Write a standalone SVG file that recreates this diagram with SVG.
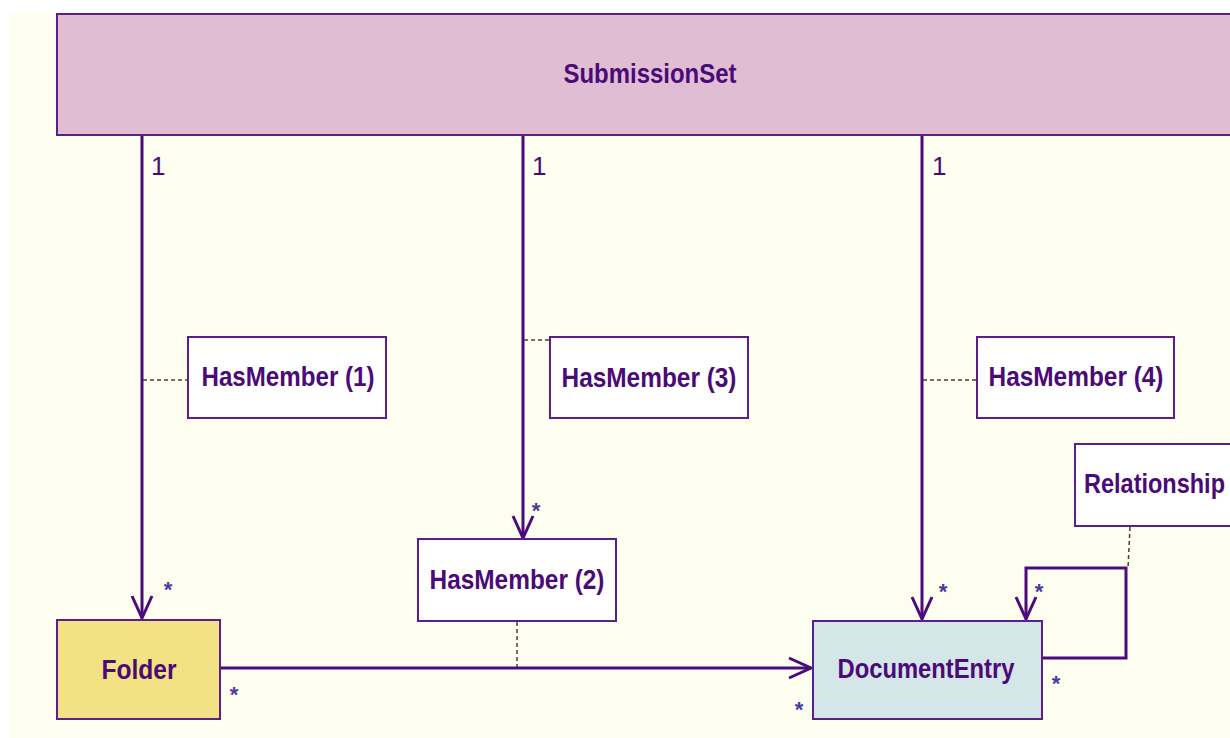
<svg xmlns="http://www.w3.org/2000/svg" width="1230" height="738" viewBox="0 0 1230 738">
<style>
.box{stroke:#5a1f8c;stroke-width:2}
.lbl{font-family:"Liberation Sans",Arial,sans-serif;font-weight:bold;font-size:27px;fill:#4a0a78;text-anchor:middle}
.mult{font-family:"Liberation Sans",Arial,sans-serif;font-size:26px;fill:#4a0a78}
.star{font-family:"Liberation Sans",Arial,sans-serif;font-weight:bold;font-size:22px;fill:#4a3a9a;text-anchor:middle}
.conn{fill:none;stroke:#4b0a7d;stroke-width:3}
.dash{fill:none;stroke:#4a4030;stroke-width:1.5;stroke-dasharray:4 3}
</style>
<defs>
<marker id="arr" markerUnits="userSpaceOnUse" viewBox="-24 -12 26 24" refX="0" refY="0" markerWidth="26" markerHeight="24" orient="auto">
<path d="M-22,-10 L0,0 L-22,10" fill="none" stroke="#4b0a7d" stroke-width="3"/>
</marker>
</defs>
<rect x="0" y="0" width="1230" height="738" fill="#ffffff"/>
<rect x="9" y="13" width="1221" height="725" fill="#fefef0"/>

<g id="connectors">
<path class="conn" d="M142,135 V618" marker-end="url(#arr)"/>
<path class="conn" d="M523,135 V538" marker-end="url(#arr)"/>
<path class="conn" d="M922,135 V619" marker-end="url(#arr)"/>
<path class="conn" d="M220,668 H811" marker-end="url(#arr)"/>
<path class="conn" d="M1042,658 H1126 V568 H1026 V619" marker-end="url(#arr)"/>
<path class="dash" d="M143,380 H188"/>
<path class="dash" d="M524,340 H550"/>
<path class="dash" d="M923,380 H977"/>
<path class="dash" d="M517,622 V667"/>
<path class="dash" d="M1130,527 L1128,568"/>
<text class="mult" x="151" y="175">1</text>
<text class="mult" x="532" y="175">1</text>
<text class="mult" x="932" y="175">1</text>
<text class="star" x="168" y="597">*</text>
<text class="star" x="234" y="702">*</text>
<text class="star" x="536" y="518">*</text>
<text class="star" x="943" y="599">*</text>
<text class="star" x="1039" y="599">*</text>
<text class="star" x="1056" y="691">*</text>
<text class="star" x="799" y="717">*</text>
</g>

<g id="submissionset">
<rect class="box" x="57" y="14" width="1180" height="121" fill="#e1bdd4"/>
<text class="lbl" x="650" y="83" textLength="173" lengthAdjust="spacingAndGlyphs">SubmissionSet</text>
</g>
<g id="hasmember1">
<rect class="box" x="188" y="337" width="198" height="81" fill="#ffffff"/>
<text class="lbl" x="288" y="386" textLength="173" lengthAdjust="spacingAndGlyphs">HasMember (1)</text>
</g>
<g id="hasmember3">
<rect class="box" x="550" y="337" width="198" height="81" fill="#ffffff"/>
<text class="lbl" x="649" y="387" textLength="175" lengthAdjust="spacingAndGlyphs">HasMember (3)</text>
</g>
<g id="hasmember4">
<rect class="box" x="977" y="337" width="197" height="81" fill="#ffffff"/>
<text class="lbl" x="1076" y="386" textLength="175" lengthAdjust="spacingAndGlyphs">HasMember (4)</text>
</g>
<g id="hasmember2">
<rect class="box" x="418" y="539" width="198" height="82" fill="#ffffff"/>
<text class="lbl" x="517" y="589" textLength="175" lengthAdjust="spacingAndGlyphs">HasMember (2)</text>
</g>
<g id="relationship">
<rect class="box" x="1075" y="444" width="170" height="82" fill="#ffffff"/>
<text class="lbl" x="1084" y="493" style="text-anchor:start" textLength="141" lengthAdjust="spacingAndGlyphs">Relationship</text>
</g>
<g id="folder">
<rect class="box" x="57" y="620" width="163" height="99" fill="#f2e283"/>
<text class="lbl" x="139" y="679" textLength="75" lengthAdjust="spacingAndGlyphs">Folder</text>
</g>
<g id="documententry">
<rect class="box" x="813" y="621" width="229" height="98" fill="#d5e6e8"/>
<text class="lbl" x="926" y="678" textLength="177" lengthAdjust="spacingAndGlyphs">DocumentEntry</text>
</g>
</svg>
